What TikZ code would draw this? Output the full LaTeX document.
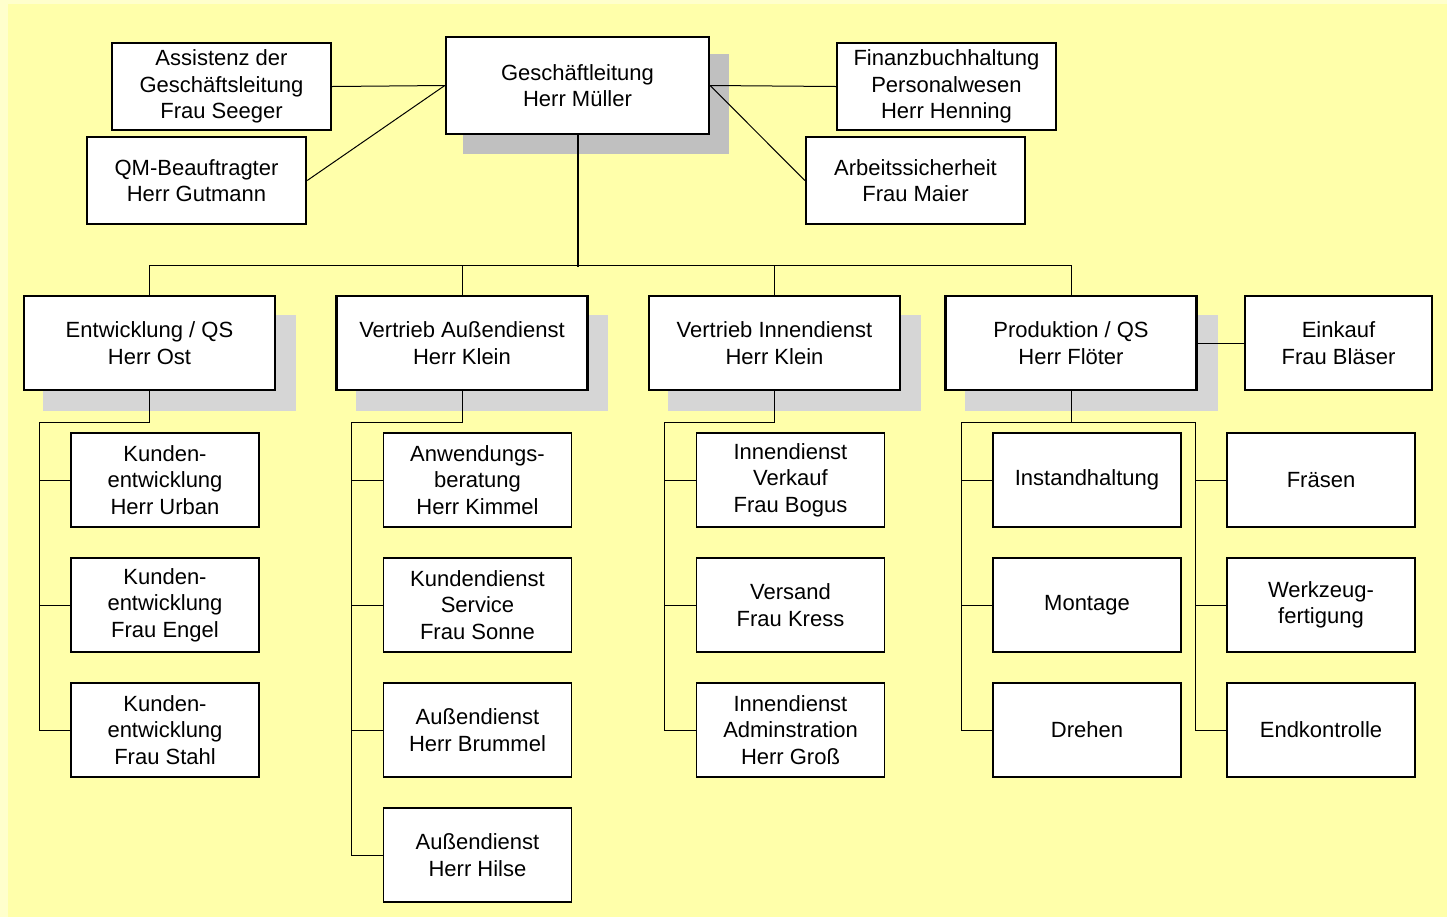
\documentclass[tikz,border=0pt]{standalone}
\usepackage{fontspec}
\setmainfont{Liberation Sans}
\usetikzlibrary{calc}
\definecolor{bglight}{HTML}{FFFFCC}
\definecolor{bgmain}{HTML}{FFFFAA}
\definecolor{shadowA}{HTML}{C0C0C0}
\definecolor{shadowB}{HTML}{D6D6D6}
\tikzset{
  box/.style={draw=black, fill=white, line width=1.2pt, inner sep=0pt, align=center,
    font=\fontsize{11}{13.3}\selectfont},
  topbox/.style={box, minimum width=109.5pt, minimum height=43.5pt},
  gfbox/.style={box, minimum width=131.5pt, minimum height=48.5pt},
  lvbox/.style={box, minimum width=125.5pt, minimum height=47pt},
  chbox/.style={box, line width=0.8pt, minimum width=94pt, minimum height=47pt},
  conn/.style={draw=black, line width=0.5pt},
  mainconn/.style={draw=black, line width=1pt},
}
\begin{document}
\begin{tikzpicture}[x=0.5pt,y=-0.5pt]
\useasboundingbox (0,0) rectangle (1447,917);
\fill[bglight] (0,0) rectangle (1447,917);
\fill[bgmain] (8,4) rectangle (1447,917);
% shadows
\fill[shadowA] (463,54) rectangle (729,154);
\fill[shadowB] (43,315) rectangle (296,411);
\fill[shadowB] (356,315) rectangle (608,411);
\fill[shadowB] (668,315) rectangle (921,411);
\fill[shadowB] (965,315) rectangle (1218,411);
% top level
\node[gfbox] (gf) at (577.5,85.5) {Geschäftleitung\\Herr Müller};
\node[topbox] (as) at (221.5,86.5) {Assistenz der\\Geschäftsleitung\\Frau Seeger};
\node[topbox] (qm) at (196.5,180.5) {QM-Beauftragter\\Herr Gutmann};
\node[topbox] (fb) at (946.5,86.5) {Finanzbuchhaltung\\Personalwesen\\Herr Henning};
\node[topbox] (ar) at (915.5,180.5) {Arbeitssicherheit\\Frau Maier};
\draw[conn] (as.east) -- (gf.west);
\draw[conn] (qm.east) -- (gf.west);
\draw[conn] (fb.west) -- (gf.east);
\draw[conn] (ar.west) -- (gf.east);
% level 2
\node[lvbox] (en) at (149.5,343) {Entwicklung / QS\\Herr Ost};
\node[lvbox] (va) at (462,343) {Vertrieb Außendienst\\Herr Klein};
\node[lvbox] (vi) at (774.5,343) {Vertrieb Innendienst\\Herr Klein};
\node[lvbox] (pr) at (1071,343) {Produktion / QS\\Herr Flöter};
\node[lvbox, minimum width=93.5pt] (ek) at (1338.5,343) {Einkauf\\Frau Bläser};
\draw[mainconn] (gf.south) -- (gf.south |- 0,267);
\draw[conn] (en.north) -- ++(0,-29) -| (pr.north);
\draw[conn] (va.north) -- ++(0,-29);
\draw[conn] (vi.north) -- ++(0,-29);
\draw[conn] (pr.east) -- (ek.west);
% Entwicklung children
\node[chbox] (e1) at (165,480) {Kunden-\\entwicklung\\Herr Urban};
\node[chbox] (e2) at (165,605) {Kunden-\\entwicklung\\Frau Engel};
\node[chbox] (e3) at (165,730) {Kunden-\\entwicklung\\Frau Stahl};
\draw[conn] (en.south) -- ++(0,31) -| ($(e3.west)+(-31,0)$) -- (e3.west);
\draw[conn] (e1.west) -- ++(-31,0);
\draw[conn] (e2.west) -- ++(-31,0);
% Vertrieb Aussendienst children
\node[chbox] (a1) at (477.5,480) {Anwendungs-\\beratung\\Herr Kimmel};
\node[chbox] (a2) at (477.5,605) {Kundendienst\\Service\\Frau Sonne};
\node[chbox] (a3) at (477.5,730) {Außendienst\\Herr Brummel};
\node[chbox] (a4) at (477.5,855) {Außendienst\\Herr Hilse};
\draw[conn] (va.south) -- ++(0,31) -| ($(a4.west)+(-31,0)$) -- (a4.west);
\draw[conn] (a1.west) -- ++(-31,0);
\draw[conn] (a2.west) -- ++(-31,0);
\draw[conn] (a3.west) -- ++(-31,0);
% Vertrieb Innendienst children
\node[chbox] (i1) at (790.5,480) {Innendienst\\Verkauf\\Frau Bogus};
\node[chbox] (i2) at (790.5,605) {Versand\\Frau Kress};
\node[chbox] (i3) at (790.5,730) {Innendienst\\Adminstration\\Herr Groß};
\draw[conn] (vi.south) -- ++(0,31) -| ($(i3.west)+(-31,0)$) -- (i3.west);
\draw[conn] (i1.west) -- ++(-31,0);
\draw[conn] (i2.west) -- ++(-31,0);
% Produktion children
\node[chbox] (p1) at (1087,480) {Instandhaltung};
\node[chbox] (p2) at (1087,605) {Montage};
\node[chbox] (p3) at (1087,730) {Drehen};
\node[chbox] (q1) at (1321,480) {Fräsen};
\node[chbox] (q2) at (1321,605) {Werkzeug-\\fertigung};
\node[chbox] (q3) at (1321,730) {Endkontrolle};
\draw[conn] (pr.south) -- ++(0,31) coordinate (pj);
\draw[conn] (p3.west) -- ++(-31,0) |- (pj) -| ($(q3.west)+(-31,0)$) -- (q3.west);
\draw[conn] (p1.west) -- ++(-31,0);
\draw[conn] (p2.west) -- ++(-31,0);
\draw[conn] (q1.west) -- ++(-31,0);
\draw[conn] (q2.west) -- ++(-31,0);
\end{tikzpicture}
\end{document}
